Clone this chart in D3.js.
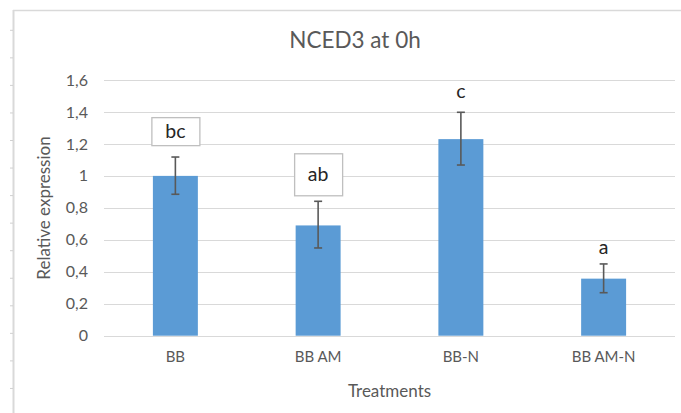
<!DOCTYPE html>
<html lang="en">
<head>
	<meta charset="UTF-8">
	<title>NCED3 at 0h</title>
	<script src="https://d3js.org/d3.v7.min.js"></script>
	<style>
		body, html {
			margin: 0;
			padding: 0;
			background: #fff;
			overflow: hidden;
		}
		svg {
			display: block;
			font-family: Lato, "Noto Sans", sans-serif;
		}
		.grid line {
			stroke: #d9d9d9;
			stroke-width: 1;
		}
		.tick-label {
			fill: #595959;
			font-size: 16px;
		}
		.cat-label {
			fill: #595959;
			font-size: 15px;
		}
		.bar {
			fill: #5b9bd5;
		}
		.err {
			stroke: #595959;
			stroke-width: 1.6;
		}
		.sig {
			fill: #262626;
			font-size: 19.5px;
		}
	</style>
</head>
<body>
<div id="chart"></div>
<script>
	// data
	const treatments = ["BB", "BB AM", "BB-N", "BB AM-N"];
	const expression = [1.0, 0.69, 1.23, 0.357];
	const errUpper = [1.118, 0.841, 1.398, 0.449];
	const errLower = [0.885, 0.549, 1.068, 0.269];
	const letters = ["bc", "ab", "c", "a"];
	const boxed = [true, true, false, false];
	const letterValue = [1.28, 1.01, 1.53, 0.556];
	const yTicks = [0, 0.2, 0.4, 0.6, 0.8, 1, 1.2, 1.4, 1.6];

	const width = 681;
	const height = 413;
	const plot = { left: 104, right: 675, top: 80, bottom: 335.7 };

	const svg = d3.select("#chart")
		.append("svg")
		.attr("width", width)
		.attr("height", height);

	// chart area frame (only top & left visible in the crop)
	svg.append("line")
		.attr("x1", 13).attr("x2", width)
		.attr("y1", 10.5).attr("y2", 10.5)
		.attr("stroke", "#d9d9d9").attr("stroke-width", 1.5);
	svg.append("line")
		.attr("x1", 13.5).attr("x2", 13.5)
		.attr("y1", 10).attr("y2", height)
		.attr("stroke", "#d9d9d9").attr("stroke-width", 2);
	// little sheet ruler marks on the left
	for (let yy = 30.3; yy < height; yy += 27.55) {
		svg.append("line")
			.attr("x1", 10).attr("x2", 13)
			.attr("y1", yy).attr("y2", yy)
			.attr("stroke", "#d0d0d0").attr("stroke-width", 1);
	}

	const x = d3.scaleBand()
		.domain(treatments)
		.range([plot.left, plot.right])
		.paddingInner(0.685)
		.paddingOuter(0.3425);

	const y = d3.scaleLinear()
		.domain([0, 1.6])
		.range([plot.bottom, plot.top]);

	// gridlines
	svg.append("g")
		.attr("class", "grid")
		.selectAll("line")
		.data(yTicks)
		.enter()
		.append("line")
		.attr("x1", plot.left)
		.attr("x2", plot.right)
		.attr("y1", d => Math.round(y(d)) + 0.5)
		.attr("y2", d => Math.round(y(d)) + 0.5);

	// y tick labels
	svg.selectAll(".tick-label")
		.data(yTicks)
		.enter()
		.append("text")
		.attr("class", "tick-label")
		.attr("x", 88)
		.attr("y", d => y(d))
		.attr("dy", "0.35em")
		.attr("text-anchor", "end")
		.text(d => String(d).replace(".", ","));

	// bars
	svg.selectAll(".bar")
		.data(treatments)
		.enter()
		.append("rect")
		.attr("class", "bar")
		.attr("x", d => x(d))
		.attr("width", x.bandwidth())
		.attr("y", (d, i) => y(expression[i]))
		.attr("height", (d, i) => y(0) - y(expression[i]));

	// error bars
	const errG = svg.append("g");
	treatments.forEach((t, i) => {
		const cx = x(t) + x.bandwidth() / 2;
		errG.append("line").attr("class", "err")
			.attr("x1", cx).attr("x2", cx)
			.attr("y1", y(errUpper[i])).attr("y2", y(errLower[i]));
		[errUpper[i], errLower[i]].forEach(v => {
			errG.append("line").attr("class", "err")
				.attr("x1", cx - 4).attr("x2", cx + 4)
				.attr("y1", y(v)).attr("y2", y(v));
		});
	});

	// significance letters
	treatments.forEach((t, i) => {
		const cx = x(t) + x.bandwidth() / 2;
		const cy = y(letterValue[i]);
		if (boxed[i]) {
			const w = 48, h = i === 0 ? 28 : 42;
			svg.append("rect")
				.attr("x", cx - w / 2 + 0.5)
				.attr("y", cy - h / 2 + 0.5)
				.attr("width", w)
				.attr("height", h)
				.attr("fill", "#fff")
				.attr("stroke", "#bfbfbf")
				.attr("stroke-width", 1.3);
		}
		svg.append("text")
			.attr("class", "sig")
			.attr("x", cx)
			.attr("y", cy)
			.attr("dy", "0.35em")
			.attr("text-anchor", "middle")
			.text(letters[i]);
	});

	// category labels
	svg.selectAll(".cat-label")
		.data(treatments)
		.enter()
		.append("text")
		.attr("class", "cat-label")
		.attr("x", d => x(d) + x.bandwidth() / 2)
		.attr("y", 362)
		.attr("text-anchor", "middle")
		.text(d => d);

	// titles
	svg.append("text")
		.attr("x", 355)
		.attr("y", 48)
		.attr("text-anchor", "middle")
		.attr("fill", "#595959")
		.attr("font-size", 22.5)
		.text("NCED3 at 0h");

	svg.append("text")
		.attr("x", (plot.left + plot.right) / 2)
		.attr("y", 397)
		.attr("text-anchor", "middle")
		.attr("fill", "#595959")
		.attr("font-size", 17)
		.text("Treatments");

	svg.append("text")
		.attr("transform", "translate(50,208) rotate(-90)")
		.attr("text-anchor", "middle")
		.attr("fill", "#595959")
		.attr("font-size", 17)
		.text("Relative expression");
</script>
</body>
</html>
